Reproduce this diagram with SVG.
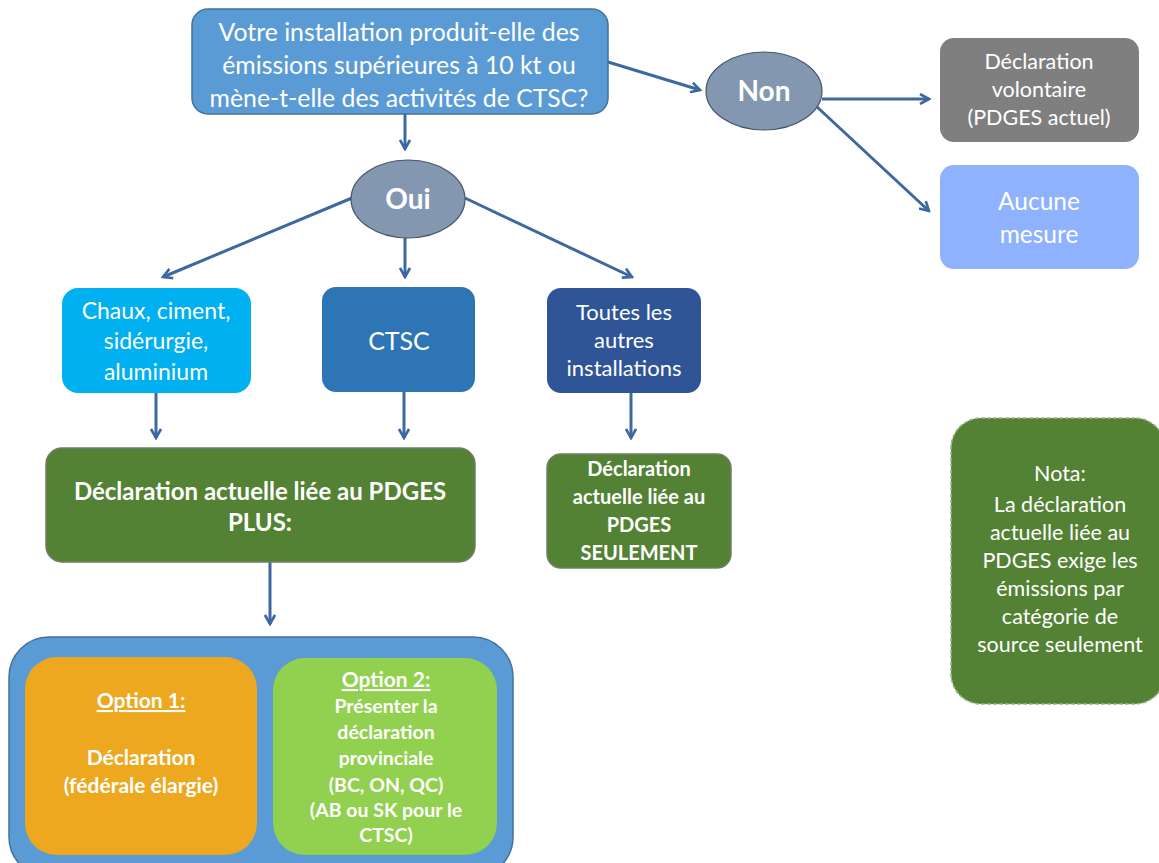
<svg xmlns="http://www.w3.org/2000/svg" width="1159" height="863" viewBox="0 0 1159 863">
<defs>
<marker id="arr" viewBox="0 0 12 12" refX="10" refY="6" markerWidth="12" markerHeight="12" markerUnits="userSpaceOnUse" orient="auto">
<path d="M1,1 L10,6 L1,11" fill="none" stroke="#3D68A0" stroke-width="2.6"/>
</marker>
<style>
text{font-family:Lato,"Open Sans","Liberation Sans",sans-serif;fill:#fff;text-anchor:middle}
.b{font-weight:bold}
.c{stroke:#3D68A0;stroke-width:3;fill:none;marker-end:url(#arr)}
</style>
</defs>
<rect width="1159" height="863" fill="#fff"/>
<g id="connectors">
<line class="c" x1="608" y1="62" x2="700" y2="90"/>
<line class="c" x1="822" y1="99" x2="929" y2="99"/>
<line class="c" x1="816" y1="106" x2="929" y2="211"/>
<line class="c" x1="405" y1="114" x2="405" y2="149"/>
<line class="c" x1="352" y1="198" x2="163" y2="277"/>
<line class="c" x1="405" y1="238" x2="405" y2="277"/>
<line class="c" x1="465" y1="198" x2="632" y2="277"/>
<line class="c" x1="156" y1="393" x2="156" y2="438"/>
<line class="c" x1="404" y1="392" x2="404" y2="438"/>
<line class="c" x1="631" y1="393" x2="631" y2="438"/>
<line class="c" x1="270" y1="562" x2="270" y2="624"/>
</g>
<g id="question">
<rect x="192" y="9" width="416" height="105" rx="16" fill="#5B9BD5" stroke="#41719C" stroke-width="1.5"/>
<text x="399" y="41" font-size="24.8">Votre installation produit-elle des</text>
<text x="399" y="74" font-size="24.8">émissions supérieures à 10 kt ou</text>
<text x="399" y="107" font-size="24.8">mène-t-elle des activités de CTSC?</text>
</g>
<g id="non">
<ellipse cx="764" cy="91" rx="58" ry="39" fill="#8497B0" stroke="#44546A" stroke-width="1.2"/>
<text x="764" y="101" font-size="28" class="b">Non</text>
</g>
<g id="volontaire">
<rect x="940" y="38" width="199" height="104" rx="14" fill="#7F7F7F"/>
<text x="1039" y="69" font-size="21.5">Déclaration</text>
<text x="1039" y="97" font-size="21.5">volontaire</text>
<text x="1039" y="125" font-size="21.5">(PDGES actuel)</text>
</g>
<g id="aucune">
<rect x="940" y="165" width="199" height="104" rx="14" fill="#8FB2FF"/>
<text x="1039" y="210" font-size="24.5">Aucune</text>
<text x="1039" y="243" font-size="24.5">mesure</text>
</g>
<g id="oui">
<ellipse cx="408" cy="199" rx="57" ry="39" fill="#8497B0" stroke="#44546A" stroke-width="1.2"/>
<text x="408" y="209" font-size="28" class="b">Oui</text>
</g>
<g id="chaux">
<rect x="62" y="288" width="189" height="105" rx="16" fill="#00B0F0"/>
<text x="156" y="319" font-size="23">Chaux, ciment,</text>
<text x="156" y="349" font-size="23">sidérurgie,</text>
<text x="156" y="380" font-size="23">aluminium</text>
</g>
<g id="ctsc">
<rect x="322" y="287" width="153" height="105" rx="14" fill="#2E75B6"/>
<text x="399" y="350" font-size="25">CTSC</text>
</g>
<g id="toutes">
<rect x="547" y="288" width="154" height="105" rx="14" fill="#2F5597"/>
<text x="624" y="320" font-size="22">Toutes les</text>
<text x="624" y="348" font-size="22">autres</text>
<text x="624" y="376" font-size="22">installations</text>
</g>
<g id="plus">
<rect x="46" y="448" width="429" height="114" rx="16" fill="#548235" stroke="#6F7F66" stroke-width="1.5"/>
<text x="260" y="500" font-size="24" class="b">Déclaration actuelle liée au PDGES</text>
<text x="260" y="531" font-size="24" class="b">PLUS:</text>
</g>
<g id="seulement">
<rect x="547" y="454" width="184" height="114" rx="14" fill="#548235" stroke="#6F7F66" stroke-width="1.5"/>
<text x="639" y="476" font-size="20" class="b">Déclaration</text>
<text x="639" y="504" font-size="20" class="b">actuelle liée au</text>
<text x="639" y="532" font-size="20" class="b">PDGES</text>
<text x="639" y="560" font-size="20" class="b">SEULEMENT</text>
</g>
<g id="options">
<rect x="9" y="637" width="504" height="240" rx="40" fill="#5B9BD5" stroke="#41719C" stroke-width="1.5"/>
</g>
<g id="option1">
<rect x="25" y="657" width="232" height="198" rx="32" fill="#EDA820"/>
<text x="141" y="708" font-size="21" class="b" text-decoration="underline">Option 1:</text>
<text x="141" y="765" font-size="21" class="b">Déclaration</text>
<text x="141" y="793" font-size="21" class="b">(fédérale élargie)</text>
</g>
<g id="option2">
<rect x="273" y="658" width="224" height="197" rx="32" fill="#92D050"/>
<text x="386" y="687" font-size="21" class="b" text-decoration="underline">Option 2:</text>
<text x="386" y="713" font-size="19.5" class="b">Présenter la</text>
<text x="386" y="739" font-size="19.5" class="b">déclaration</text>
<text x="386" y="765" font-size="19.5" class="b">provinciale</text>
<text x="386" y="792" font-size="19.5" class="b">(BC, ON, QC)</text>
<text x="386" y="817" font-size="19.5" class="b">(AB ou SK pour le</text>
<text x="386" y="842" font-size="19.5" class="b">CTSC)</text>
</g>
<g id="nota">
<rect x="951" y="418" width="214" height="286" rx="30" fill="#548235" stroke="#9FB48F" stroke-width="1.5" stroke-dasharray="4 2"/>
<text x="1060" y="481" font-size="21.5">Nota:</text>
<text x="1060" y="512" font-size="21.5">La déclaration</text>
<text x="1060" y="540" font-size="21.5">actuelle liée au</text>
<text x="1060" y="568" font-size="21.5">PDGES exige les</text>
<text x="1060" y="596" font-size="21.5">émissions par</text>
<text x="1060" y="624" font-size="21.5">catégorie de</text>
<text x="1060" y="652" font-size="21.5">source seulement</text>
</g>
</svg>
